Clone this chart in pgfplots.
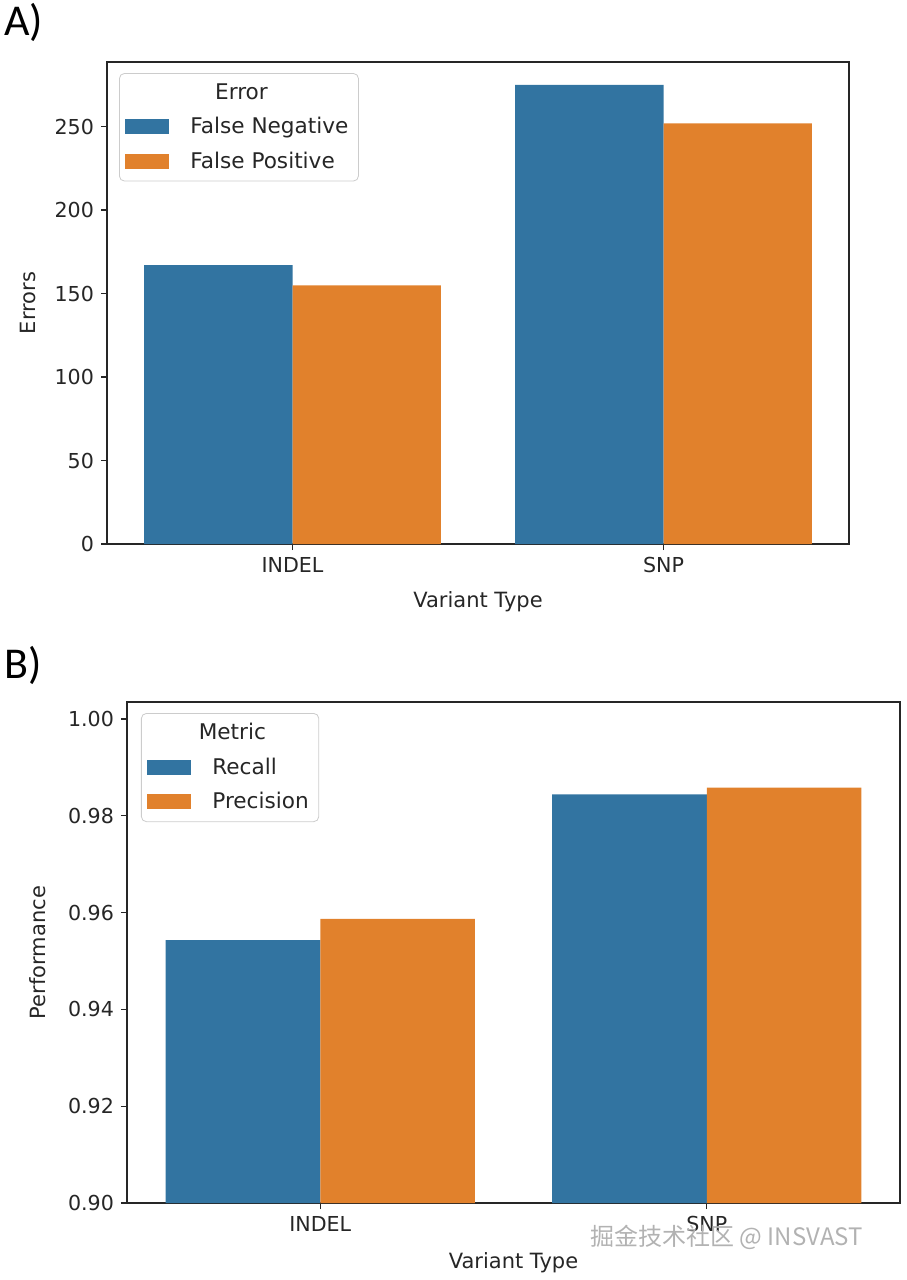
\documentclass[border=0pt]{standalone}
\usepackage{fontspec}
\setmainfont{DejaVu Sans}
\newfontfamily\labfont{Carlito}
\newfontfamily\cjk{Noto Sans CJK SC}
\usepackage{pgfplots}
\pgfplotsset{compat=1.18}

\definecolor{sbblue}{HTML}{3274A1}
\definecolor{sborange}{HTML}{E1812C}
\definecolor{spine}{HTML}{262626}

\pgfplotsset{
  sbbar/.style={
    scale only axis,
    ybar, bar width=0.4,
    xmin=-0.5, xmax=1.5,
    xtick={0,1}, xticklabels={INDEL,SNP},
    axis line style={spine, line width=0.7pt},
    tick style={spine, line width=0.7pt},
    major tick length=3pt,
    tick align=outside,
    xtick pos=left, ytick pos=left,
    ticklabel style={font=\fontsize{10.3}{12}\selectfont, text=spine},
    /pgf/number format/assume math mode=true,
    label style={font=\fontsize{10.5}{12}\selectfont, text=spine},
    xlabel={Variant Type},
    xlabel style={at={(axis description cs:0.5,-0.12)}, anchor=center},
    legend cell align=left,
    legend style={draw=black!20, rounded corners=2.5pt, fill=white,
      fill opacity=0.8, text opacity=1, anchor=north west,
      font=\fontsize{10.8}{13}\selectfont, text=spine,
      row sep=3.5pt, inner xsep=3pt, inner ysep=3pt,
      /tikz/every odd column/.append style={column sep=8.5pt}},
  },
  sbleg/.style={legend image code/.code={\fill[##1, sharp corners, fill opacity=1] (0pt,-3.75pt) rectangle (22pt,3.75pt);}},
}

\begin{document}
\begin{tikzpicture}
\path[use as bounding box] (0,0) rectangle (453pt,-640pt);

\node[anchor=base west, inner sep=0, font=\labfont\fontsize{22}{26}\selectfont] at (2pt,-17.5pt) {A)};
\node[anchor=base west, inner sep=0, font=\labfont\fontsize{22}{26}\selectfont] at (2pt,-339pt) {B)};

% panel A: errors
\begin{axis}[sbbar,
    at={(53.5pt,-272pt)}, anchor=south west,
    width=371pt, height=241pt,
    ymin=0, ymax=288.75,
    ytick={0,50,100,150,200,250},
    ylabel={Errors},
    ylabel style={at={(axis description cs:-0.1065,0.5)}, anchor=center},
    legend style={at={(axis description cs:0.0162,0.977)}},
]
\addlegendimage{empty legend}
\addlegendentry{\makebox[0pt][l]{\hspace*{25.5pt}\makebox[0pt][c]{Error}}}
\addplot[fill=sbblue, draw=none, bar shift=-0.2, sbleg] coordinates {(0,167) (1,275)};
\addlegendentry{False Negative}
\addplot[fill=sborange, draw=none, bar shift=0.2, sbleg] coordinates {(0,155) (1,252)};
\addlegendentry{False Positive}
\end{axis}

% panel B: performance
\begin{axis}[sbbar,
    at={(63.5pt,-601.5pt)}, anchor=south west,
    width=386.5pt, height=250.5pt,
    ymin=0.9, ymax=1.0035,
    ytick={0.90,0.92,0.94,0.96,0.98,1.00},
    yticklabel style={/pgf/number format/.cd, fixed, fixed zerofill, precision=2},
    ylabel={Performance},
    ylabel style={at={(axis description cs:-0.115,0.5)}, anchor=center},
    legend style={at={(axis description cs:0.0181,0.978)}},
]
\addlegendimage{empty legend}
\addlegendentry{\makebox[0pt][l]{\hspace*{10pt}\makebox[0pt][c]{Metric}}}
\addplot[fill=sbblue, draw=none, bar shift=-0.2, sbleg] coordinates {(0,0.9543) (1,0.9844)};
\addlegendentry{Recall}
\addplot[fill=sborange, draw=none, bar shift=0.2, sbleg] coordinates {(0,0.9587) (1,0.9858)};
\addlegendentry{Precision}
\end{axis}

\node[anchor=base west, inner sep=0, font=\cjk\fontsize{12}{14}\selectfont, text=gray!60] at (295pt,-622.5pt) {掘金技术社区 @ INSVAST};
\end{tikzpicture}
\end{document}
